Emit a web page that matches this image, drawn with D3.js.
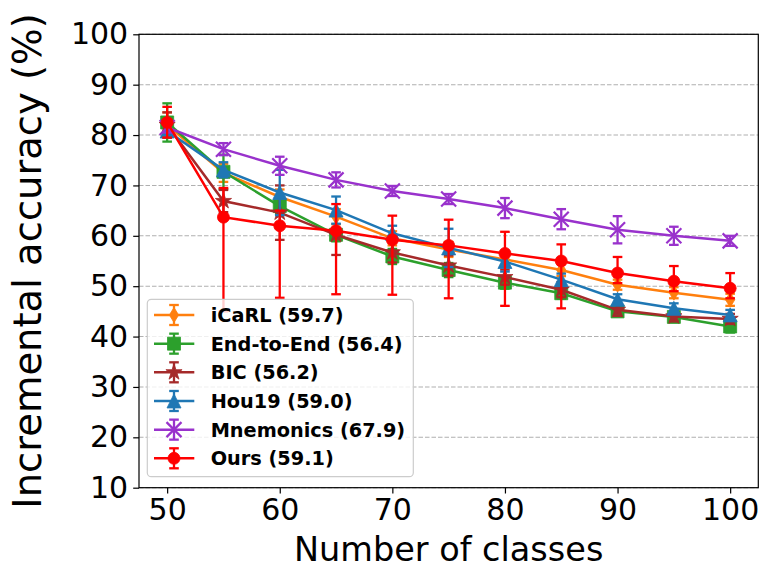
<!DOCTYPE html>
<html lang="en">
<head>
<meta charset="UTF-8">
<title>Incremental accuracy</title>
<style>
body {
    margin: 0;
    background-color: #fff;
    font-family: "DejaVu Sans", sans-serif;
}
</style>
</head>
<body>
<div id="plot"></div>
<script src="https://cdn.jsdelivr.net/npm/d3@7"></script>
<script>

const w = 771,
      h = 578;

// data
const classes = [50, 55, 60, 65, 70, 75, 80, 85, 90, 95, 100];
const yTicks = [10, 20, 30, 40, 50, 60, 70, 80, 90, 100];
const xTicks = [50, 60, 70, 80, 90, 100];

const icarl    = [82.0, 72.5, 67.7, 63.8, 59.5, 57.3, 55.3, 53.2, 50.3, 48.7, 47.3];
const icarlErr = [2.5, 1.8, 1.5, 1.5, 1.4, 1.5, 1.3, 1.2, 1.0, 1.1, 1.2];

const e2e    = [82.5, 72.7, 65.9, 60.2, 55.9, 53.2, 50.7, 48.6, 45.0, 43.9, 42.0];
const e2eErr = [3.8, 3.4, 1.6, 1.3, 1.5, 1.4, 1.2, 1.1, 0.9, 1.0, 1.2];

const bic    = [82.0, 66.9, 64.6, 60.2, 56.7, 54.1, 51.8, 49.3, 45.3, 44.0, 43.5];
const bicErr = [2.5, 2.2, 5.4, 4.0, 2.0, 2.0, 1.5, 1.5, 1.2, 1.0, 1.0];

const hou    = [80.8, 73.1, 68.6, 65.1, 60.5, 57.6, 54.9, 51.3, 47.4, 45.6, 44.3];
const houErr = [1.0, 1.5, 4.5, 2.7, 1.5, 3.8, 2.0, 1.2, 1.0, 1.0, 1.0];

const mnem    = [81.5, 77.2, 73.9, 71.1, 68.9, 67.3, 65.5, 63.3, 61.2, 60.0, 59.0];
const mnemErr = [1.0, 1.2, 1.8, 1.5, 1.0, 1.0, 2.0, 2.0, 2.7, 1.8, 1.0];

const ours     = [82.5, 63.7, 62.0, 61.0, 59.2, 58.1, 56.5, 55.0, 52.6, 51.0, 49.6];
const oursUp   = [3.1, 5.8, 3.0, 5.3, 4.8, 5.1, 4.3, 3.3, 3.2, 3.0, 3.0];
const oursDown = [3.0, 18.7, 14.3, 12.6, 10.9, 10.5, 10.4, 9.4, 2.0, 2.0, 2.0];

const labels = ["iCaRL (59.7)", "End-to-End (56.4)", "BIC (56.2)",
                "Hou19 (59.0)", "Mnemonics (67.9)", "Ours (59.1)"];

const series = [
    {name: labels[0], vals: icarl, up: icarlErr, down: icarlErr, color: "#ff7f0e", marker: "thinDiamond", size: 15},
    {name: labels[1], vals: e2e,   up: e2eErr,   down: e2eErr,   color: "#2ca02c", marker: "square",      size: 13},
    {name: labels[2], vals: bic,   up: bicErr,   down: bicErr,   color: "#a52a2a", marker: "star",        size: 17},
    {name: labels[3], vals: hou,   up: houErr,   down: houErr,   color: "#1f77b4", marker: "triangle",    size: 14},
    {name: labels[4], vals: mnem,  up: mnemErr,  down: mnemErr,  color: "#9932cc", marker: "x",           size: 15},
    {name: labels[5], vals: ours,  up: oursUp,   down: oursDown, color: "#ff0000", marker: "circle",      size: 12}
];

// layout
const margin = {left: 139, top: 34.3, right: w - 758.3, bottom: h - 487.7};
const iw = w - margin.left - margin.right,
      ih = h - margin.top - margin.bottom;

const svg = d3.select("#plot").append("svg")
    .attr("width", w)
    .attr("height", h);

const x = d3.scaleLinear().domain([47.5, 102.5]).range([0, iw]);
const y = d3.scaleLinear().domain([10, 100]).range([ih, 0]);

const g = svg.append("g").attr("transform", `translate(${margin.left},${margin.top})`);

// grid (y only)
g.selectAll(".grid")
    .data(yTicks)
    .join("line")
    .attr("class", "grid")
    .attr("x1", 0).attr("x2", iw)
    .attr("y1", d => y(d)).attr("y2", d => y(d))
    .attr("stroke", "#b0b0b0")
    .attr("stroke-width", 1.1)
    .attr("stroke-dasharray", "4.5,2");

// marker path builders, s = marker size in px
function markerPath(type, s) {
    const r = s / 2;
    if (type === "circle") {
        return d3.symbol(d3.symbolCircle, Math.PI * r * r)();
    }
    if (type === "square") {
        return `M${-r},${-r}H${r}V${r}H${-r}Z`;
    }
    if (type === "triangle") {
        return `M0,${-r}L${r},${r}L${-r},${r}Z`;
    }
    if (type === "thinDiamond") {
        return `M0,${-r}L${r * 0.62},0L0,${r}L${-r * 0.62},0Z`;
    }
    if (type === "star") {
        const pts = [];
        for (let i = 0; i < 10; i++) {
            const rr = i % 2 === 0 ? r : r * 0.382;
            const a = -Math.PI / 2 + i * Math.PI / 5;
            pts.push([rr * Math.cos(a), rr * Math.sin(a)]);
        }
        return "M" + pts.map(p => p.join(",")).join("L") + "Z";
    }
    if (type === "x") {
        return `M${-r},${-r}L${r},${r}M${-r},${r}L${r},${-r}`;
    }
}

function drawMarker(sel, s) {
    const isLine = s.marker === "x";
    sel.attr("d", markerPath(s.marker, s.size))
        .attr("fill", isLine ? "none" : s.color)
        .attr("stroke", s.color)
        .attr("stroke-width", isLine ? 2.2 : 0.8)
        .attr("stroke-linejoin", "miter");
}

const cap = 4.8;
const line = d3.line().x((d, i) => x(classes[i])).y(d => y(d));

series.forEach(s => {
    const sg = g.append("g").attr("class", "series");
    const pts = classes.map((c, i) => ({c: c, v: s.vals[i], hi: s.vals[i] + s.up[i], lo: s.vals[i] - s.down[i]}));

    // error bars
    sg.selectAll(".bar").data(pts).join("line")
        .attr("class", "bar")
        .attr("x1", d => x(d.c)).attr("x2", d => x(d.c))
        .attr("y1", d => y(d.lo)).attr("y2", d => y(d.hi))
        .attr("stroke", s.color).attr("stroke-width", 2.3);
    sg.selectAll(".capHi").data(pts).join("line")
        .attr("class", "capHi")
        .attr("x1", d => x(d.c) - cap).attr("x2", d => x(d.c) + cap)
        .attr("y1", d => y(d.hi)).attr("y2", d => y(d.hi))
        .attr("stroke", s.color).attr("stroke-width", 2.3);
    sg.selectAll(".capLo").data(pts).join("line")
        .attr("class", "capLo")
        .attr("x1", d => x(d.c) - cap).attr("x2", d => x(d.c) + cap)
        .attr("y1", d => y(d.lo)).attr("y2", d => y(d.lo))
        .attr("stroke", s.color).attr("stroke-width", 2.3);

    // line
    sg.append("path")
        .attr("d", line(s.vals))
        .attr("fill", "none")
        .attr("stroke", s.color)
        .attr("stroke-width", 2.5);

    // markers
    sg.selectAll(".mk").data(pts).join("path")
        .attr("class", "mk")
        .attr("transform", d => `translate(${x(d.c)},${y(d.v)})`)
        .call(drawMarker, s);
});

// axes
const xAxis = d3.axisBottom(x).tickValues(xTicks).tickSize(5.8).tickPadding(5);
const yAxis = d3.axisLeft(y).tickValues(yTicks).tickSize(5.8).tickPadding(5);

const gx = g.append("g").attr("transform", `translate(0,${ih})`).call(xAxis);
const gy = g.append("g").call(yAxis);

[gx, gy].forEach(ax => {
    ax.select(".domain").remove();
    ax.selectAll(".tick line").attr("stroke", "#000").attr("stroke-width", 1.2);
    ax.selectAll(".tick text")
        .attr("font-family", "DejaVu Sans")
        .attr("font-size", 30)
        .attr("fill", "#000");
});

// frame
g.append("rect")
    .attr("width", iw).attr("height", ih)
    .attr("fill", "none")
    .attr("stroke", "#000")
    .attr("stroke-width", 1.2);

// axis labels
svg.append("text")
    .attr("x", margin.left + iw / 2)
    .attr("y", 561)
    .attr("text-anchor", "middle")
    .attr("font-size", 33.5)
    .text("Number of classes");

svg.append("text")
    .attr("transform", `translate(41,${margin.top + ih / 2}) rotate(-90)`)
    .attr("text-anchor", "middle")
    .attr("font-size", 38.5)
    .text("Incremental accuracy (%)");

// legend
const lg = svg.append("g").attr("class", "legend");
lg.append("rect")
    .attr("x", 147.3).attr("y", 299.3)
    .attr("width", 266).attr("height", 177.4)
    .attr("rx", 4).attr("ry", 4)
    .attr("fill", "#fff").attr("fill-opacity", 0.8)
    .attr("stroke", "#cccccc").attr("stroke-width", 1.2);

const rowY = d3.scalePoint().domain(labels).range([315, 458.3]);

series.forEach(s => {
    const ry = rowY(s.name);
    const row = lg.append("g");
    row.append("line")
        .attr("x1", 154).attr("x2", 194.3)
        .attr("y1", ry).attr("y2", ry)
        .attr("stroke", s.color).attr("stroke-width", 2.5);
    row.append("line")
        .attr("x1", 174).attr("x2", 174)
        .attr("y1", ry - 10).attr("y2", ry + 10)
        .attr("stroke", s.color).attr("stroke-width", 2.3);
    [ry - 10, ry + 10].forEach(cy => {
        row.append("line")
            .attr("x1", 174 - cap).attr("x2", 174 + cap)
            .attr("y1", cy).attr("y2", cy)
            .attr("stroke", s.color).attr("stroke-width", 2.3);
    });
    row.append("path")
        .attr("transform", `translate(174,${ry})`)
        .call(drawMarker, s);
    row.append("text")
        .attr("x", 210.7)
        .attr("y", ry)
        .attr("dy", "0.36em")
        .attr("font-size", 19.3)
        .attr("font-weight", "bold")
        .text(s.name);
});
</script>
</body>
</html>
